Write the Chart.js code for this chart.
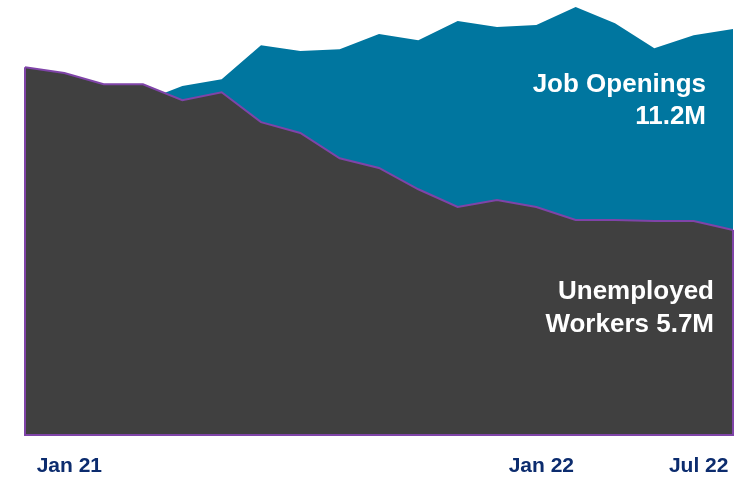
<!DOCTYPE html>
<html>
<head>
<meta charset="utf-8">
<script src="https://cdn.jsdelivr.net/npm/chart.js@4/dist/chart.umd.min.js"></script>
<style>
  body { margin: 0; background: #fff; }
  canvas { display: block; }
</style>
</head>
<body>
<canvas id="chart" width="744" height="481"></canvas>
<script>
const months = [
  'Jan 21', 'Feb 21', 'Mar 21', 'Apr 21', 'May 21', 'Jun 21', 'Jul 21', 'Aug 21', 'Sep 21', 'Oct 21',
  'Nov 21', 'Dec 21', 'Jan 22', 'Feb 22', 'Mar 22', 'Apr 22', 'May 22', 'Jun 22', 'Jul 22',
]

// labels shown under the axis (the source places them loosely)
const axisLabels = ['', 'Jan 21', '', '', '', '', '', '', '', '', '', '', '', 'Jan 22', '', '', '', 'Jul 22', '']

// millions
const unemployed = [10.19, 10.03, 9.72, 9.72, 9.28, 9.5, 8.67, 8.37, 7.67, 7.4, 6.81, 6.32, 6.51, 6.32, 5.96, 5.96, 5.93, 5.93, 5.68]
const jobOpenings = [7.1, 7.6, 8.3, 9.25, 9.67, 9.86, 10.8, 10.64, 10.69, 11.11, 10.94, 11.47, 11.31, 11.36, 11.86, 11.41, 10.72, 11.08, 11.25]

const TEAL = '#00769f'
const GREY = '#404040'
const PURPLE = '#7f44a8'
const NAVY = '#0c2c6e'

// purple frame round the unemployed area + the two callouts
const areaLabels = {
  id: 'areaLabels',
  afterDatasetsDraw(chart) {
    const { ctx } = chart
    const pts = chart.getDatasetMeta(0).data
    const base = chart.scales.y.getPixelForValue(0)
    const first = pts[0]
    const last = pts[pts.length - 1]

    ctx.save()
    ctx.strokeStyle = PURPLE
    ctx.lineWidth = 2
    ctx.beginPath()
    ctx.moveTo(first.x, first.y)
    ctx.lineTo(first.x, base)
    ctx.lineTo(last.x, base)
    ctx.lineTo(last.x, last.y)
    ctx.stroke()

    ctx.fillStyle = '#ffffff'
    ctx.font = 'bold 26px "Liberation Sans", Arial, sans-serif'
    ctx.textAlign = 'right'
    ctx.textBaseline = 'alphabetic'
    ctx.fillText('Job Openings', 706, 92)
    ctx.fillText('11.2M', 706, 124)
    ctx.fillText('Unemployed', 714, 299)
    ctx.fillText('Workers 5.7M', 714, 332)
    ctx.restore()
  },
}

new Chart(document.getElementById('chart'), {
  type: 'line',
  data: {
    labels: months,
    datasets: [
      {
        label: 'Unemployed Workers',
        data: unemployed,
        backgroundColor: GREY,
        borderColor: PURPLE,
        borderWidth: 2,
        fill: 'origin',
        pointRadius: 0,
        tension: 0,
        order: 1,
      },
      {
        label: 'Job Openings',
        data: jobOpenings,
        backgroundColor: TEAL,
        borderWidth: 0,
        fill: 'origin',
        pointRadius: 0,
        tension: 0,
        order: 2,
      },
    ],
  },
  options: {
    responsive: false,
    animation: false,
    devicePixelRatio: 1,
    layout: { padding: { left: 25, right: 11, top: 2, bottom: 2 } },
    plugins: { legend: { display: false }, tooltip: { enabled: false } },
    scales: {
      x: {
        grid: { display: false, drawTicks: false },
        border: { display: false },
        afterFit: scale => {
          scale.height = 44
          scale.paddingLeft = 0
          scale.paddingRight = 0
        },
        ticks: {
          autoSkip: false,
          maxRotation: 0,
          padding: 19,
          labelOffset: 5,
          color: NAVY,
          font: { family: '"Liberation Sans", Arial, sans-serif', size: 21, weight: 'bold' },
          callback: (val, i) => axisLabels[i],
        },
      },
      y: { display: false, min: 0, max: 12 },
    },
  },
  plugins: [areaLabels],
})
</script>
</body>
</html>
